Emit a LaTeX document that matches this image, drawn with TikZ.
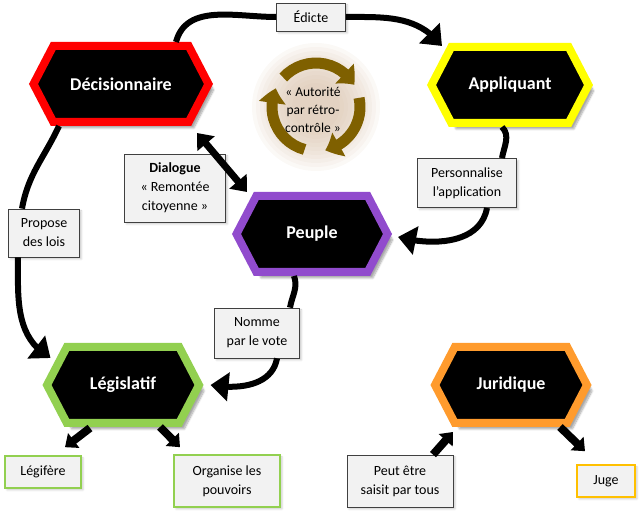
\documentclass[tikz,border=0pt]{standalone}
\usepackage{fontspec}
\setmainfont{Carlito}
\usetikzlibrary{shapes.symbols,arrows.meta,bending,calc,shadows.blur}
\definecolor{decred}{RGB}{255,0,0}
\definecolor{appyellow}{RGB}{255,255,0}
\definecolor{peupurple}{RGB}{145,75,205}
\definecolor{leggreen}{RGB}{146,208,80}
\definecolor{jurorange}{RGB}{255,155,45}
\definecolor{jugeyellow}{RGB}{255,192,0}
\definecolor{boxgray}{RGB}{242,242,242}
\definecolor{loopolive}{RGB}{127,96,0}
\definecolor{glowbrown}{RGB}{212,186,160}
\begin{document}
\begin{tikzpicture}[x=1pt, y=1pt,
    hexa/.style={signal, signal to=west and east, signal pointer angle=125,
      fill=black, line width=8pt, minimum height=76pt, text=white,
      font=\fontsize{18}{22}\selectfont\bfseries,
      blur shadow={shadow xshift=5pt, shadow yshift=-6pt, shadow blur steps=8, shadow opacity=35}},
    textbox/.style={draw=black!75, fill=boxgray, line width=0.8pt, align=center,
      font=\fontsize{14}{19}\selectfont, inner sep=2pt,
      blur shadow={shadow xshift=2pt, shadow yshift=-2pt, shadow blur steps=3, shadow opacity=20}},
    link/.style={line width=6pt},
    headed/.style={link, -{Triangle[length=18pt, width=28pt]}},
    twoway/.style={line width=7pt, {Triangle[length=14pt, width=22pt]}-{Triangle[length=14pt, width=22pt]}},
    stub/.style={line width=8pt, -{Triangle[length=11pt, width=18pt]}},
    loopar/.style={loopolive, line width=11pt, -{Triangle[length=15pt, width=26pt, bend]}}]
  \useasboundingbox (0,0) rectangle (641,512);

  % retro-controle
  \coordinate (cyc) at (316,405);
  \foreach \r in {64,60,...,24}
    \fill[glowbrown, opacity=0.09] (cyc) circle (\r);
  \draw[loopar] ($(cyc)+(138:44)$) arc[start angle=138, end angle=30, radius=44];
  \draw[loopar] ($(cyc)+(12:44)$) arc[start angle=12, end angle=-78, radius=44];
  \draw[loopar] ($(cyc)+(255:44)$) arc[start angle=255, end angle=155, radius=44];
  \node[align=center, font=\fontsize{13.5}{18}\selectfont] (autorite) at (313,402)
    {« Autorité\\par rétro-\\contrôle »};

  % pouvoirs
  \node[hexa, draw=decred, minimum width=175pt] (dec) at (121,428) {Décisionnaire};
  \node[hexa, draw=appyellow, minimum width=157pt] (app) at (510,427) {Appliquant};
  \node[hexa, draw=peupurple, minimum width=151pt] (peu) at (312,278) {Peuple};
  \node[hexa, draw=leggreen, minimum width=152pt] (leg) at (123,127) {Législatif};
  \node[hexa, draw=jurorange, minimum width=152pt] (jur) at (511,127) {Juridique};

  % etiquettes
  \node[textbox, minimum width=69pt, minimum height=28pt] (edicte) at (311,495) {Édicte};
  \node[textbox, minimum width=101pt, minimum height=68pt] (dialog) at (175,324)
    {\textbf{Dialogue}\\« Remontée\\citoyenne »};
  \node[textbox, minimum width=71pt, minimum height=48pt] (propose) at (44,279) {Propose\\des lois};
  \node[textbox, minimum width=99pt, minimum height=49pt] (perso) at (467,329) {Personnalise\\l’application};
  \node[textbox, minimum width=85pt, minimum height=50pt] (nomme) at (257,179) {Nomme\\par le vote};
  \node[textbox, draw=leggreen, line width=1.6pt, minimum width=76pt, minimum height=32pt] (legif) at (43,40) {Légifère};
  \node[textbox, draw=leggreen, line width=1.6pt, minimum width=106pt, minimum height=52pt] (orga) at (227,31) {Organise les\\pouvoirs};
  \node[textbox, minimum width=106pt, minimum height=52pt] (peut) at (400,31) {Peut être\\saisit par tous};
  \node[textbox, draw=jugeyellow, line width=1.6pt, minimum width=58pt, minimum height=32pt] (juge) at (606,31) {Juge};

  % liens
  \draw[link] ($(dec.north)+(55,0)$) to[out=75, in=180] (edicte.west);
  \draw[headed] (edicte.east) to[out=0, in=128] ($(app.north)+(-68,-3)$);
  \draw[link] ($(app.south)+(-8,0)$) to[out=-45, in=80] ($(perso.north)+(35,0)$);
  \draw[headed] ($(perso.south)+(20,0)$) to[out=-100, in=-15] ($(peu.east)+(6,-3)$);
  \draw[twoway] ($(dec.south)+(76,-7)$) -- ($(peu.north)+(-65,0)$);
  \draw[link] ($(dec.south)+(-62,0)$) to[out=-115, in=80] ($(propose.north)+(-22,0)$);
  \draw[headed] ($(propose.south)+(-26,0)$) to[out=-90, in=150] ($(leg.west)+(8,27)$);
  \draw[link] ($(peu.south)+(-18,0)$) to[out=-70, in=80] ($(nomme.north)+(33,0)$);
  \draw[headed] ($(nomme.south)+(20,0)$) to[out=-100, in=-10] ($(leg.east)+(7,0)$);
  \draw[stub] ($(leg.south)+(-33,-1)$) -- ($(legif.north)+(22,8)$);
  \draw[stub] ($(leg.south)+(37,0)$) -- ($(orga.north)+(-47,7)$);
  \draw[stub] ($(peut.north)+(33,0)$) -- ($(jur.south)+(-58,-5)$);
  \draw[stub] ($(jur.south)+(49,0)$) -- ($(juge.north)+(-21,13)$);
\end{tikzpicture}
\end{document}
